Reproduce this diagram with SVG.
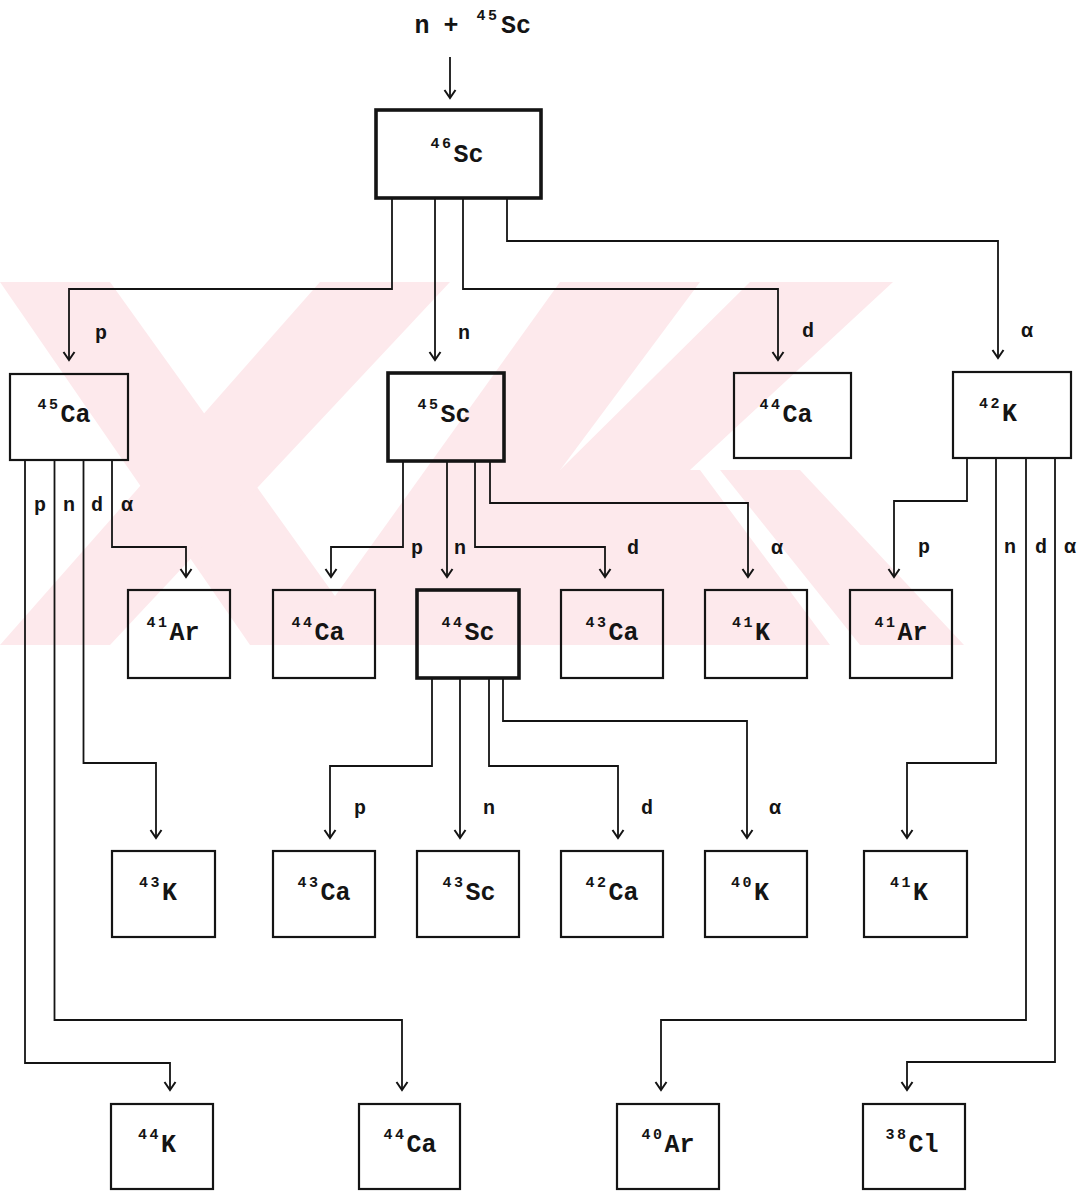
<svg xmlns="http://www.w3.org/2000/svg" width="1087" height="1191" viewBox="0 0 1087 1191">
<defs>
<style>
.box{fill:none;stroke:#141414;stroke-width:2.2}
.thick{stroke-width:3.6}
.c{fill:none;stroke:#141414;stroke-width:1.8;marker-end:url(#arr)}
.t{font-family:"Liberation Mono","DejaVu Sans Mono",monospace;font-weight:bold;font-size:25px;fill:#141414;text-anchor:middle}
.s{font-size:15px;letter-spacing:2.5px}
.l{font-family:"Liberation Mono","DejaVu Sans Mono",monospace;font-weight:bold;font-size:20px;fill:#141414;text-anchor:middle}
.wm{fill:#fde9ec}
</style>
<marker id="arr" markerUnits="userSpaceOnUse" markerWidth="20" markerHeight="20" viewBox="-10 -10 20 20" refX="0" refY="0" orient="auto" overflow="visible"><path d="M-8,-5.5 L0,0 L-8,5.5" fill="none" stroke="#141414" stroke-width="2"/></marker>
</defs>
<rect width="1087" height="1191" fill="#fff"/>
<g id="watermark">
<polygon class="wm" points="0,282 110,282 370,645 250,645"/>
<polygon class="wm" points="320,282 450,282 110,645 0,645"/>
<polygon class="wm" points="560,282 700,282 430,645 300,645"/>
<polygon class="wm" points="750,282 893,282 690,470 560,470"/>
<polygon class="wm" points="470,470 700,470 830,645 430,645"/>
<polygon class="wm" points="720,470 800,470 964,645 860,645"/>
</g>
<g id="title">
<text class="t" y="33"><tspan x="422">n</tspan><tspan x="451">+</tspan><tspan class="s" x="488" dy="-13">45</tspan><tspan x="516" dy="13">Sc</tspan></text>
</g>
<g id="connectors">
<polyline class="c" points="450,57 450,98"/>
<polyline class="c" points="392,198 392,289 69,289 69,360"/>
<polyline class="c" points="435,198 435,360"/>
<polyline class="c" points="463,198 463,289 778,289 778,360"/>
<polyline class="c" points="507,198 507,241 998,241 998,358"/>
<polyline class="c" points="25,460 25,1063 170,1063 170,1090"/>
<polyline class="c" points="54.5,460 54.5,1020 402,1020 402,1090"/>
<polyline class="c" points="83.5,460 83.5,763 156,763 156,838"/>
<polyline class="c" points="112,460 112,547 186,547 186,577"/>
<polyline class="c" points="403,461 403,547 331,547 331,577"/>
<polyline class="c" points="447,461 447,577"/>
<polyline class="c" points="475,461 475,547 605,547 605,577"/>
<polyline class="c" points="490,461 490,503 748,503 748,577"/>
<polyline class="c" points="967,458 967,501 894,501 894,577"/>
<polyline class="c" points="996,458 996,763 907,763 907,838"/>
<polyline class="c" points="1026,458 1026,1020 661,1020 661,1090"/>
<polyline class="c" points="1055,458 1055,1062 907,1062 907,1090"/>
<polyline class="c" points="432,678 432,766 330,766 330,838"/>
<polyline class="c" points="460,678 460,838"/>
<polyline class="c" points="489,678 489,766 618,766 618,838"/>
<polyline class="c" points="503,678 503,721 747,721 747,838"/>
</g>
<g id="labels">
<text class="l" x="101" y="339">p</text>
<text class="l" x="464" y="339">n</text>
<text class="l" x="808" y="337">d</text>
<text class="l" x="1027" y="337">α</text>
<text class="l" x="40" y="511">p</text>
<text class="l" x="69" y="511">n</text>
<text class="l" x="97" y="511">d</text>
<text class="l" x="127" y="511">α</text>
<text class="l" x="417" y="554">p</text>
<text class="l" x="460" y="554">n</text>
<text class="l" x="633" y="554">d</text>
<text class="l" x="777" y="554">α</text>
<text class="l" x="924" y="553">p</text>
<text class="l" x="1010" y="553">n</text>
<text class="l" x="1041" y="553">d</text>
<text class="l" x="1070" y="553">α</text>
<text class="l" x="360" y="814">p</text>
<text class="l" x="489" y="814">n</text>
<text class="l" x="647" y="814">d</text>
<text class="l" x="775" y="814">α</text>
</g>
<g id="n46Sc"><rect class="box thick" x="376" y="110" width="165" height="88"/><text class="t" x="457" y="162"><tspan class="s" dy="-14">46</tspan><tspan dy="14">Sc</tspan></text></g>
<g id="n45Ca"><rect class="box" x="10" y="374" width="118" height="86"/><text class="t" x="64" y="422"><tspan class="s" dy="-13">45</tspan><tspan dy="13">Ca</tspan></text></g>
<g id="n45Sc"><rect class="box thick" x="388" y="373" width="116" height="88"/><text class="t" x="444" y="422"><tspan class="s" dy="-13">45</tspan><tspan dy="13">Sc</tspan></text></g>
<g id="n44Ca_1"><rect class="box" x="734" y="373" width="117" height="85"/><text class="t" x="786" y="422"><tspan class="s" dy="-13">44</tspan><tspan dy="13">Ca</tspan></text></g>
<g id="n42K"><rect class="box" x="953" y="372" width="118" height="86"/><text class="t" x="998" y="421"><tspan class="s" dy="-13">42</tspan><tspan dy="13">K</tspan></text></g>
<g id="n41Ar_1"><rect class="box" x="128" y="590" width="102" height="88"/><text class="t" x="173" y="640"><tspan class="s" dy="-13">41</tspan><tspan dy="13">Ar</tspan></text></g>
<g id="n44Ca_2"><rect class="box" x="273" y="590" width="102" height="88"/><text class="t" x="318" y="640"><tspan class="s" dy="-13">44</tspan><tspan dy="13">Ca</tspan></text></g>
<g id="n44Sc"><rect class="box thick" x="417" y="590" width="102" height="88"/><text class="t" x="468" y="640"><tspan class="s" dy="-13">44</tspan><tspan dy="13">Sc</tspan></text></g>
<g id="n43Ca_1"><rect class="box" x="561" y="590" width="102" height="88"/><text class="t" x="612" y="640"><tspan class="s" dy="-13">43</tspan><tspan dy="13">Ca</tspan></text></g>
<g id="n41K_1"><rect class="box" x="705" y="590" width="102" height="88"/><text class="t" x="751" y="640"><tspan class="s" dy="-13">41</tspan><tspan dy="13">K</tspan></text></g>
<g id="n41Ar_2"><rect class="box" x="850" y="590" width="102" height="88"/><text class="t" x="901" y="640"><tspan class="s" dy="-13">41</tspan><tspan dy="13">Ar</tspan></text></g>
<g id="n43K"><rect class="box" x="112" y="851" width="103" height="86"/><text class="t" x="158" y="900"><tspan class="s" dy="-13">43</tspan><tspan dy="13">K</tspan></text></g>
<g id="n43Ca_2"><rect class="box" x="273" y="851" width="102" height="86"/><text class="t" x="324" y="900"><tspan class="s" dy="-13">43</tspan><tspan dy="13">Ca</tspan></text></g>
<g id="n43Sc"><rect class="box" x="417" y="851" width="102" height="86"/><text class="t" x="469" y="900"><tspan class="s" dy="-13">43</tspan><tspan dy="13">Sc</tspan></text></g>
<g id="n42Ca"><rect class="box" x="561" y="851" width="102" height="86"/><text class="t" x="612" y="900"><tspan class="s" dy="-13">42</tspan><tspan dy="13">Ca</tspan></text></g>
<g id="n40K"><rect class="box" x="705" y="851" width="102" height="86"/><text class="t" x="750" y="900"><tspan class="s" dy="-13">40</tspan><tspan dy="13">K</tspan></text></g>
<g id="n41K_2"><rect class="box" x="864" y="851" width="103" height="86"/><text class="t" x="909" y="900"><tspan class="s" dy="-13">41</tspan><tspan dy="13">K</tspan></text></g>
<g id="n44K"><rect class="box" x="111" y="1104" width="102" height="85"/><text class="t" x="157" y="1152"><tspan class="s" dy="-13">44</tspan><tspan dy="13">K</tspan></text></g>
<g id="n44Ca_3"><rect class="box" x="359" y="1104" width="101" height="85"/><text class="t" x="410" y="1152"><tspan class="s" dy="-13">44</tspan><tspan dy="13">Ca</tspan></text></g>
<g id="n40Ar"><rect class="box" x="617" y="1104" width="102" height="85"/><text class="t" x="668" y="1152"><tspan class="s" dy="-13">40</tspan><tspan dy="13">Ar</tspan></text></g>
<g id="n38Cl"><rect class="box" x="863" y="1104" width="102" height="85"/><text class="t" x="912" y="1152"><tspan class="s" dy="-13">38</tspan><tspan dy="13">Cl</tspan></text></g>
</svg>
